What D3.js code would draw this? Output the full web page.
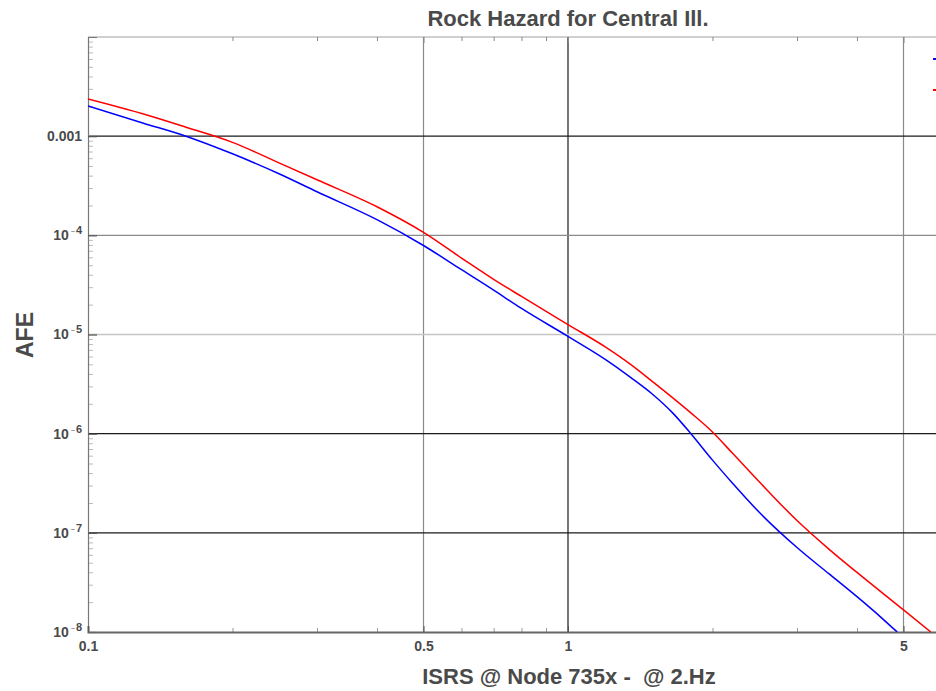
<!DOCTYPE html>
<html>
<head>
<meta charset="utf-8">
<script src="https://cdn.jsdelivr.net/npm/d3@7"></script>
<style>
body { margin: 0; background: #fff; overflow: hidden; }
text { font-family: "Liberation Sans", Arial, sans-serif; font-weight: bold; fill: #4a4a4a; }
</style>
</head>
<body>
<div id="chart"></div>
<script>
const width = 936
const height = 691
const margin = {top: 37, left: 88}
const plotBottom = 632
const decadeX = 480

// curves
const xBlue = [0.1, 0.13, 0.16, 0.2, 0.25, 0.3, 0.4, 0.5, 0.6, 0.7, 0.8, 1.0, 1.2, 1.35, 1.5, 1.65, 1.8, 2.0, 2.2, 2.5, 3.0, 3.5, 4.0, 4.5, 4.85]
const afeBlue = [2.02e-3, 1.36e-3, 1.0e-3, 6.64e-4, 4.18e-4, 2.75e-4, 1.44e-4, 7.9e-5, 4.5e-5, 2.8e-5, 1.83e-5, 9.57e-6, 5.55e-6, 3.7e-6, 2.5e-6, 1.63e-6, 1.01e-6, 5.41e-7, 3.18e-7, 1.62e-7, 7.11e-8, 3.85e-8, 2.27e-8, 1.39e-8, 1.0e-8]
const xRed = [0.1, 0.13, 0.16, 0.2, 0.25, 0.3, 0.4, 0.5, 0.6, 0.7, 0.8, 1.0, 1.2, 1.35, 1.5, 1.8, 2.0, 2.2, 2.5, 3.0, 3.5, 4.0, 5.0, 5.7]
const afeRed = [2.37e-3, 1.68e-3, 1.23e-3, 8.66e-4, 5.38e-4, 3.63e-4, 1.94e-4, 1.07e-4, 5.9e-5, 3.6e-5, 2.42e-5, 1.26e-5, 7.42e-6, 5.0e-6, 3.35e-6, 1.63e-6, 1.04e-6, 6.37e-7, 3.29e-7, 1.33e-7, 6.82e-8, 3.99e-8, 1.67e-8, 1.0e-8]

const xTickLabels = [0.1, 0.5, 1, 5]
const xMinorTicks = [0.2, 0.3, 0.4, 0.6, 0.7, 0.8, 0.9, 2, 3, 4, 6]
const yTickLabels = [1e-3, 1e-4, 1e-5, 1e-6, 1e-7, 1e-8]
const gridX = [0.5, 1, 5]
const gridY = [1e-3, 1e-4, 1e-5, 1e-6, 1e-7]

const title = "Rock Hazard for Central Ill."
const xTitle = "ISRS @ Node 735x -  @ 2.Hz"
const yTitle = "AFE"

const svg = d3.select("div#chart").append("svg").attr("width", width).attr("height", height)

const x = d3.scaleLog().domain([0.1, 6]).range([margin.left, margin.left + decadeX * Math.log10(60)])
const y = d3.scaleLog().domain([1e-8, 1e-2]).range([plotBottom, margin.top])
const right = x.range()[1]

// minor y ticks 2..9 per decade
let yMinorTicks = []
for (let e = -8; e < -2; e++) {
    for (let k = 2; k <= 9; k++) yMinorTicks.push(k * Math.pow(10, e))
}

// grid
const gridColorX = v => v === 1 ? "#1a1a1a" : "#8a8a8a"
const gridColorY = v => v === 1e-4 ? "#8a8a8a" : v === 1e-5 ? "#c4c4c4" : "#1a1a1a"

svg.append("g").selectAll("line").data(gridX).enter().append("line")
    .attr("x1", d => x(d)).attr("x2", d => x(d))
    .attr("y1", margin.top).attr("y2", plotBottom)
    .attr("stroke", gridColorX).attr("stroke-width", 1.2)

svg.append("g").selectAll("line").data(gridY).enter().append("line")
    .attr("x1", margin.left).attr("x2", right)
    .attr("y1", d => y(d)).attr("y2", d => y(d))
    .attr("stroke", gridColorY).attr("stroke-width", 1.4)

// frame top
svg.append("line").attr("x1", margin.left).attr("x2", right)
    .attr("y1", margin.top).attr("y2", margin.top).attr("stroke", "#a0a0a0")

const topMinor = svg.append("g").attr("transform", `translate(0, ${margin.top})`)
    .call(d3.axisTop(x).tickValues(xMinorTicks).tickSize(-4).tickFormat(""))
const topMajor = svg.append("g").attr("transform", `translate(0, ${margin.top})`)
    .call(d3.axisTop(x).tickValues(xTickLabels).tickSize(-6).tickFormat(""))
;[topMinor, topMajor].forEach(g => {
    g.select(".domain").remove()
    g.selectAll("line").attr("stroke", "#888")
})

// y axis
const yMinor = svg.append("g").attr("transform", `translate(${margin.left}, 0)`)
    .call(d3.axisLeft(y).tickValues(yMinorTicks).tickSize(-5).tickFormat(""))
yMinor.select(".domain").remove()
yMinor.selectAll("line").attr("stroke", "#bbb")

const yMajor = svg.append("g").attr("transform", `translate(${margin.left}, 0)`)
    .call(d3.axisLeft(y).tickValues(yTickLabels).tickSize(-9).tickPadding(6).tickFormat(""))
yMajor.select(".domain").attr("stroke", "#777").attr("stroke-width", 1.2)
yMajor.selectAll("line").attr("stroke", "#555").attr("stroke-width", 1.2)

yMajor.selectAll(".tick text").each(function(d) {
    const t = d3.select(this).attr("font-size", 14).attr("font-family", null).attr("fill", null)
    if (d === 1e-3) {
        t.text("0.001")
    } else {
        const e = Math.round(Math.log10(d))
        t.append("tspan").text("10")
        t.append("tspan").attr("dx", 2).attr("dy", -6).attr("font-size", 7).attr("fill", "#888").text("\u2212")
        t.append("tspan").attr("dx", 1).attr("font-size", 11).text(-e)
    }
})

// x axis
const xMinor = svg.append("g").attr("transform", `translate(0, ${plotBottom})`)
    .call(d3.axisBottom(x).tickValues(xMinorTicks).tickSize(-4).tickFormat(""))
xMinor.select(".domain").remove()
xMinor.selectAll("line").attr("stroke", "#999")

const xMajor = svg.append("g").attr("transform", `translate(0, ${plotBottom})`)
    .call(d3.axisBottom(x).tickValues(xTickLabels).tickSize(-6).tickPadding(9).tickFormat(d => d))
xMajor.select(".domain").attr("stroke", "#666").attr("stroke-width", 2)
xMajor.selectAll("line").attr("stroke", "#555")
xMajor.selectAll("text").attr("font-size", 14).attr("font-family", null).attr("fill", null)

// curves
svg.append("clipPath").attr("id", "clip").append("rect")
    .attr("x", margin.left).attr("y", margin.top)
    .attr("width", right - margin.left).attr("height", plotBottom - margin.top)

const line = d3.line().x(d => x(d[0])).y(d => y(d[1])).curve(d3.curveMonotoneX)

const curves = svg.append("g").attr("clip-path", "url(#clip)")
curves.append("path").datum(d3.zip(xBlue, afeBlue))
    .attr("d", line).attr("fill", "none").attr("stroke", "#0000ff").attr("stroke-width", 1.5)
curves.append("path").datum(d3.zip(xRed, afeRed))
    .attr("d", line).attr("fill", "none").attr("stroke", "#ff0000").attr("stroke-width", 1.5)

// legend swatches (labels fall outside the window)
const legend = svg.append("g").attr("transform", `translate(933, 59)`)
legend.append("line").attr("x1", 0).attr("x2", 20).attr("y1", 0).attr("y2", 0).attr("stroke", "#0000ff").attr("stroke-width", 2)
legend.append("line").attr("x1", 0).attr("x2", 20).attr("y1", 31).attr("y2", 31).attr("stroke", "#ff0000").attr("stroke-width", 2)

// titles
svg.append("text").text(title)
    .attr("x", 568).attr("y", 26).attr("text-anchor", "middle").attr("font-size", 22)

svg.append("text").text(xTitle)
    .attr("x", 569).attr("y", 684).attr("text-anchor", "middle").attr("font-size", 22)
    .style("white-space", "pre")

svg.append("text").text(yTitle)
    .attr("text-anchor", "middle").attr("font-size", 23)
    .attr("transform", `translate(33, 335) rotate(-90)`)
</script>
</body>
</html>
